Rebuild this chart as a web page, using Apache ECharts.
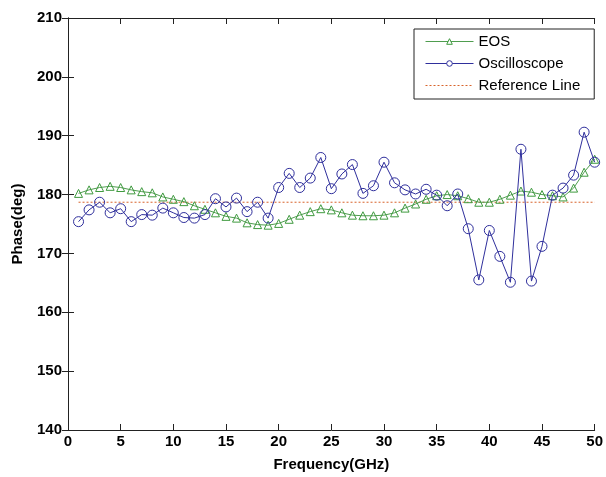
<!DOCTYPE html>
<html>
<head>
<meta charset="utf-8">
<script src="https://cdn.jsdelivr.net/npm/echarts@6/dist/echarts.min.js"></script>
<style>
  html, body { margin: 0; padding: 0; background: #fff; }
  #chart { width: 606px; height: 477px; }
</style>
</head>
<body>
<div id="chart"></div>
<script>
// 频率点 (GHz)
const freq = [1, 2, 3, 4, 5, 6, 7, 8, 9, 10, 11, 12, 13, 14, 15, 16, 17, 18, 19, 20,
  21, 22, 23, 24, 25, 26, 27, 28, 29, 30, 31, 32, 33, 34, 35, 36, 37, 38, 39, 40,
  41, 42, 43, 44, 45, 46, 47, 48, 49, 50];

// EOS 相位
const eosPhase = [180.2, 180.8, 181.2, 181.4, 181.2, 180.8, 180.5, 180.3, 179.6, 179.2,
  178.8, 178.1, 177.5, 176.9, 176.3, 176.0, 175.2, 174.9, 174.8, 175.1,
  175.8, 176.5, 177.1, 177.6, 177.4, 176.9, 176.5, 176.4, 176.4, 176.5,
  176.9, 177.7, 178.4, 179.2, 179.8, 180.0, 179.8, 179.3, 178.7, 178.7,
  179.2, 179.9, 180.6, 180.4, 180.0, 179.8, 179.6, 181.1, 183.8, 186.0];

// 示波器相位
const oscPhase = [175.4, 177.4, 178.7, 176.9, 177.6, 175.4, 176.6, 176.5, 177.7, 176.9,
  176.1, 176.0, 176.6, 179.3, 177.9, 179.4, 177.1, 178.7, 176.0, 181.2,
  183.6, 181.2, 182.8, 186.3, 181.0, 183.5, 185.1, 180.2, 181.5, 185.5,
  182.0, 180.8, 180.1, 180.9, 179.9, 178.1, 180.1, 174.2, 165.5, 173.9,
  169.5, 165.1, 187.7, 165.3, 171.2, 179.9, 181.1, 183.3, 190.6, 185.5];

// 参考线
const refX = [1, 50];
const refPhase = [178.7, 178.7];

document.addEventListener('DOMContentLoaded', function() {
    let chart = echarts.init(document.getElementById('chart'));

    const font = 'Liberation Sans, Arial, sans-serif';
    const axisColor = '#222';
    const green = '#3f9a3f';
    const blue = '#2f2f9c';

    function pairs(xs, ys) {
        return xs.map((x, i) => [x, ys[i]]);
    }

    // 坐标轴公共样式
    const tickLabel = {
        color: '#000',
        fontFamily: font,
        fontWeight: 'bold',
        fontSize: 15
    };

    chart.setOption({
        animation: false,
        backgroundColor: '#fff',
        grid: {
            left: 68,
            right: 8,
            top: 18,
            bottom: 44
        },
        legend: {
            orient: 'vertical',
            left: 414,
            top: 29,
            padding: [5, 14, 6, 11],
            itemWidth: 48,
            itemHeight: 7,
            itemGap: 7,
            backgroundColor: '#fff',
            borderColor: '#222',
            borderWidth: 1,
            borderRadius: 0,
            lineStyle: { width: 1 },
            textStyle: {
                color: '#000',
                fontFamily: font,
                fontSize: 15
            },
            data: [
                { name: 'EOS', itemStyle: { color: '#fff', borderColor: green, borderWidth: 1 } },
                { name: 'Oscilloscope', itemStyle: { color: '#fff', borderColor: blue, borderWidth: 1 } },
                { name: 'Reference Line', itemStyle: { opacity: 0 } }
            ]
        },
        xAxis: [{
            type: 'value',
            min: 0,
            max: 50,
            interval: 5,
            name: 'Frequency(GHz)',
            nameLocation: 'middle',
            nameGap: 27,
            nameTextStyle: {
                color: '#000',
                fontFamily: font,
                fontWeight: 'bold',
                fontSize: 15
            },
            axisLine: { lineStyle: { color: axisColor } },
            axisTick: { inside: true, length: 6, lineStyle: { color: axisColor } },
            axisLabel: Object.assign({ margin: 4 }, tickLabel),
            splitLine: { show: false }
        }, {
            type: 'value',
            position: 'top',
            min: 0,
            max: 50,
            interval: 5,
            axisLine: { show: true, lineStyle: { color: axisColor } },
            axisTick: { inside: true, length: 6, lineStyle: { color: axisColor } },
            axisLabel: { show: false },
            splitLine: { show: false }
        }],
        yAxis: [{
            type: 'value',
            min: 140,
            max: 210,
            interval: 10,
            name: 'Phase(deg)',
            nameLocation: 'middle',
            nameGap: 43,
            nameTextStyle: {
                color: '#000',
                fontFamily: font,
                fontWeight: 'bold',
                fontSize: 15
            },
            axisLine: { show: true, lineStyle: { color: axisColor } },
            axisTick: { show: true, inside: true, length: 6, lineStyle: { color: axisColor } },
            axisLabel: Object.assign({ margin: 6 }, tickLabel),
            splitLine: { show: false }
        }, {
            type: 'value',
            position: 'right',
            min: 140,
            max: 210,
            interval: 10,
            axisLine: { show: true, lineStyle: { color: axisColor } },
            axisTick: { show: true, inside: true, length: 6, lineStyle: { color: axisColor } },
            axisLabel: { show: false },
            splitLine: { show: false }
        }],
        series: [{
            name: 'EOS',
            type: 'line',
            data: pairs(freq, eosPhase),
            symbol: 'triangle',
            symbolSize: 8,
            lineStyle: { color: '#4f9d4f', width: 1 },
            itemStyle: { color: 'rgba(255,255,255,0)', borderColor: green, borderWidth: 1 },
            z: 3
        }, {
            name: 'Oscilloscope',
            type: 'line',
            data: pairs(freq, oscPhase),
            symbol: 'circle',
            symbolSize: 10,
            lineStyle: { color: blue, width: 1 },
            itemStyle: { color: 'rgba(255,255,255,0)', borderColor: blue, borderWidth: 1 },
            z: 4
        }, {
            name: 'Reference Line',
            type: 'line',
            data: pairs(refX, refPhase),
            symbol: 'none',
            lineStyle: { color: '#d8632a', width: 1, type: [2, 2] },
            itemStyle: { color: '#d8632a' },
            z: 2
        }]
    });
});
</script>
</body>
</html>
